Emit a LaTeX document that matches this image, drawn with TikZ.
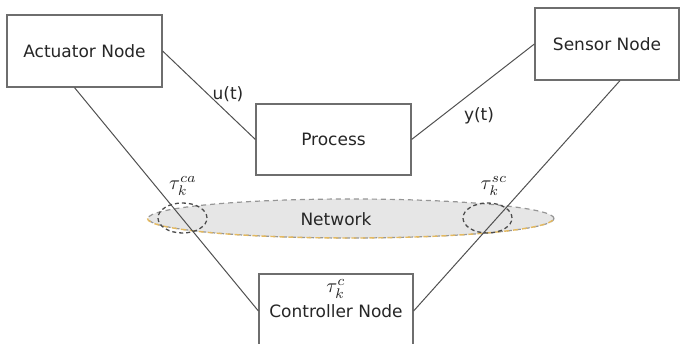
\documentclass[tikz,border=0pt]{standalone}
\usepackage{fontspec}
\setmainfont{DejaVu Sans}
\usetikzlibrary{shapes.geometric}
\definecolor{boxgray}{RGB}{110,110,110}
\definecolor{linegray}{RGB}{80,80,80}
\definecolor{netfill}{RGB}{230,230,230}
\definecolor{netedge}{RGB}{150,150,150}
\definecolor{netorange}{RGB}{228,185,95}

\begin{document}
\begin{tikzpicture}[x=1pt,y=-1pt,
  every node/.style={inner sep=1pt,font=\fontsize{17}{20}\selectfont,text=black!85},
  box/.style={rectangle,draw=boxgray,line width=1.2pt,fill=white},
  delay/.style={ellipse,draw=black!70,dash pattern=on 4pt off 3pt,line width=1.3pt,minimum width=49pt,minimum height=30pt},
  delaylbl/.style={font=\normalsize,scale=2,transform shape},
  link/.style={linegray,line width=1pt}]
  \useasboundingbox (0,0) rectangle (681,344);
  % the network and its two delay regions
  \node[ellipse,fill=netfill,draw=netedge,dash pattern=on 5pt off 4pt,line width=1.2pt,minimum width=406pt,minimum height=39pt] (net) at (351,218.5) {};
  \draw[netorange,dash pattern=on 5pt off 4pt,line width=1.4pt] (net.west) arc[start angle=180,end angle=360,x radius=203pt,y radius=19.5pt];
  \node (netlbl) at (336,219) {Network};
  \node[delay] (dca) at (182.5,218) {};
  \node[delay] (dsc) at (487.5,218) {};
  % blocks
  \node[box,minimum width=155pt,minimum height=72pt] (act) at (84.5,51) {Actuator Node};
  \node[box,minimum width=144pt,minimum height=72pt] (sens) at (607,44) {Sensor Node};
  \node[box,minimum width=155pt,minimum height=71pt] (proc) at (333.5,139.5) {Process};
  \node[box,minimum width=154pt,minimum height=74pt] (ctrl) at (336,311) {Controller Node};
  % signals and delays
  \node (u) at (228,94) {u(t)};
  \node (y) at (479,116) {y(t)};
  \node[delaylbl] (tauca) at (183,186) {$\tau_k^{ca}$};
  \node[delaylbl] (tausc) at (494,186) {$\tau_k^{sc}$};
  \node[delaylbl] (tauc) at (336,289) {$\tau_k^{c}$};
  \draw[link] (act.east) -- (proc.west);
  \draw[link] (proc.east) -- (sens.west);
  \draw[link] ([xshift=-10pt]act.south) -- (ctrl.west);
  \draw[link] ([xshift=13pt]sens.south) -- (ctrl.east);
\end{tikzpicture}
\end{document}
